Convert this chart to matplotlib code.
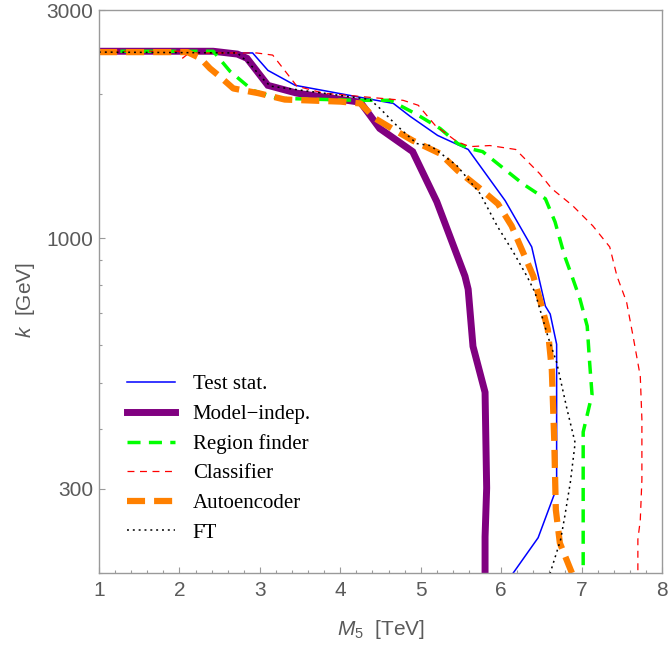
import matplotlib
matplotlib.use("Agg")
import matplotlib.pyplot as plt
from matplotlib.ticker import FixedLocator, FixedFormatter, MultipleLocator, NullFormatter

plt.rcParams['lines.scale_dashes'] = False
plt.rcParams['mathtext.fontset'] = 'custom'
plt.rcParams['mathtext.rm'] = 'Liberation Sans'
plt.rcParams['mathtext.it'] = 'Liberation Sans:italic'

# ---- data (M5 in TeV, k in GeV) ----
test_m5 = [1.0, 2.91, 3.10, 3.44, 4.66, 4.87, 5.21, 5.59, 6.05, 6.38, 6.55, 6.61, 6.69, 6.69, 6.46, 6.15]
test_k = [2440, 2440, 2244, 2088, 1914, 1798, 1641, 1534, 1199, 960, 722, 695, 601, 301, 237, 200]

model_m5 = [1.0, 2.42, 2.72, 2.84, 3.10, 3.46, 4.25, 4.49, 4.90, 5.20, 5.55, 5.59, 5.65, 5.80, 5.82, 5.80, 5.80]
model_k = [2460, 2460, 2427, 2378, 2088, 2011, 1925, 1697, 1518, 1193, 834, 783, 595, 477, 301, 238, 200]

region_m5 = [1.0, 2.42, 2.63, 2.91, 3.21, 4.21, 4.62, 4.95, 5.24, 5.46, 5.61, 5.77, 6.27, 6.55, 6.67, 6.79, 6.88,
             6.98, 7.07, 7.10, 7.13, 7.02, 7.02]
region_k = [2460, 2460, 2233, 2039, 1962, 1943, 1943, 1816, 1697, 1578, 1540, 1518, 1300, 1210, 1083, 918, 834,
            747, 656, 551, 472, 394, 200]

class_m5 = [1.0, 2.0, 2.04, 2.12, 2.96, 3.16, 3.46, 3.79, 4.78, 4.97, 5.18, 5.45, 5.61, 5.86, 6.18, 6.48, 6.63,
            6.89, 7.14, 7.35, 7.44, 7.56, 7.64, 7.73, 7.75, 7.75, 7.73, 7.70, 7.70]
class_k = [2460, 2460, 2380, 2440, 2440, 2415, 2080, 2011, 1943, 1897, 1722, 1593, 1555, 1563, 1534, 1365, 1270,
           1170, 1062, 960, 834, 736, 625, 515, 419, 313, 258, 235, 200]

auto_m5 = [1.0, 2.10, 2.26, 2.38, 2.50, 2.67, 2.98, 3.31, 4.0, 4.25, 4.43, 4.64, 4.90, 5.24, 5.46, 5.74, 5.96,
           6.13, 6.27, 6.40, 6.48, 6.58, 6.63, 6.66, 6.68, 6.73, 6.88]
auto_k = [2450, 2450, 2378, 2265, 2180, 2057, 2011, 1950, 1931, 1914, 1782, 1697, 1601, 1504, 1385, 1270, 1181,
          1062, 937, 834, 747, 646, 532, 380, 271, 231, 200]

ft_m5 = [1.0, 2.72, 2.88, 3.03, 3.13, 3.79, 4.37, 4.49, 4.70, 4.95, 5.12, 5.45, 5.74, 5.95, 6.15, 6.32, 6.42,
         6.58, 6.69, 6.82, 6.92, 6.86, 6.79, 6.74, 6.61]
ft_k = [2450, 2440, 2310, 2160, 2080, 2011, 1950, 1871, 1722, 1578, 1563, 1419, 1239, 1062, 937, 834, 772,
        625, 551, 439, 374, 309, 262, 235, 200]

labels = ["Test stat.", "Model\u2212indep.", "Region finder", "Classifier", "Autoencoder", "FT"]
x_ticks = [1, 2, 3, 4, 5, 6, 7, 8]
y_ticks = [300, 1000, 3000]
y_tick_labels = ["300", "1000", "3000"]
y_minor = [200, 400, 500, 600, 700, 800, 900, 2000]

fig = plt.figure(figsize=(6.68, 6.46), dpi=100)
ax = fig.add_axes([99/668, 1 - 573/646, 563/668, 563/646])

ax.plot(test_m5, test_k, color=(0, 0, 1), lw=1.1, label=labels[0])
ax.plot(model_m5, model_k, color=(0.5, 0, 0.5), lw=5.0, label=labels[1], solid_joinstyle='miter')
ax.plot(region_m5, region_k, color=(0, 1, 0), lw=2.5, dashes=(9.4, 6.0), label=labels[2])
ax.plot(class_m5, class_k, color=(1, 0, 0), lw=0.9, dashes=(5.0, 4.0), label=labels[3])
ax.plot(auto_m5, auto_k, color=(1, 0.5, 0), lw=4.5, dashes=(13, 6.5), label=labels[4])
ax.plot(ft_m5, ft_k, color='black', lw=1.1, dashes=(1.4, 2.8), label=labels[5])

ax.set_yscale('log')
ax.set_xlim(1, 8)
ax.set_ylim(200, 3000)
ax.yaxis.set_major_locator(FixedLocator(y_ticks))
ax.yaxis.set_major_formatter(FixedFormatter(y_tick_labels))
ax.yaxis.set_minor_locator(FixedLocator(y_minor))
ax.yaxis.set_minor_formatter(NullFormatter())
ax.xaxis.set_major_locator(FixedLocator(x_ticks))
ax.xaxis.set_minor_locator(MultipleLocator(0.2))

gray = '#9a9a9a'
for s in ax.spines.values():
    s.set_color(gray)
    s.set_linewidth(1.0)
ax.tick_params(which='both', direction='in', color=gray, top=False, right=False,
               labelsize=15, labelcolor='#5a5a5a', labelfontfamily='Liberation Sans')
ax.tick_params(which='major', length=4.5, width=0.8)
ax.tick_params(which='minor', length=2.5, width=0.8)
ax.tick_params(axis='x', pad=6)
ax.tick_params(axis='y', pad=4)

ax.set_xlabel(r'$M_5$  [TeV]', fontsize=15, color='#5a5a5a', family='Liberation Sans', labelpad=13)
ax.set_ylabel(r'$k$  [GeV]', fontsize=15, color='#5a5a5a', family='Liberation Sans')
ax.yaxis.set_label_coords(-0.11, 0.485)

leg = ax.legend(loc='upper left', bbox_to_anchor=(0.05, 0.352), frameon=False, borderpad=0,
                borderaxespad=0, handlelength=2.3, handletextpad=0.85, labelspacing=0.48,
                prop={'family': 'Liberation Serif', 'size': 15})

fig.savefig('out.png', dpi=100)
